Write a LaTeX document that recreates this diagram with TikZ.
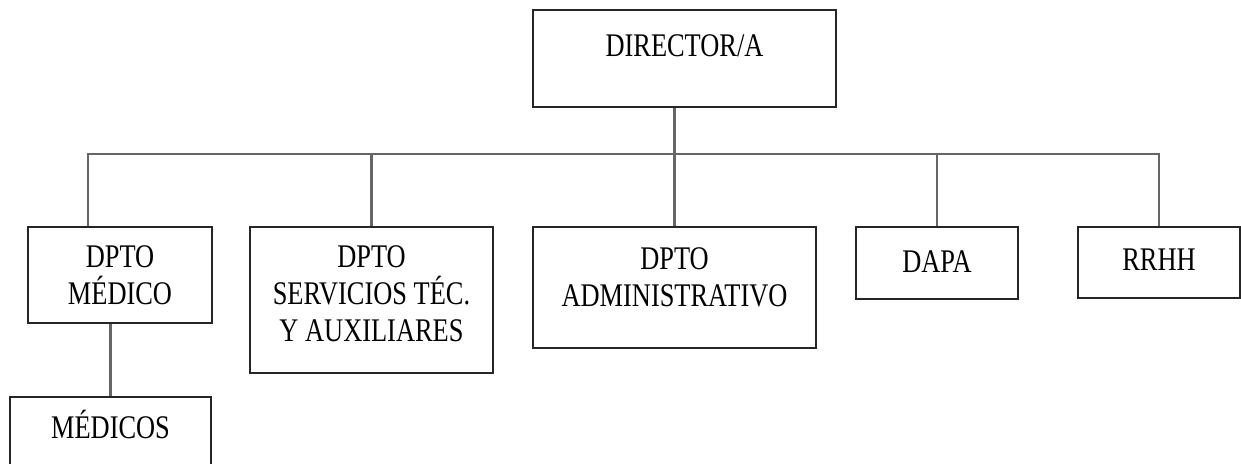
\documentclass[tikz,border=0pt]{standalone}
\usepackage{fontspec}
\newfontfamily\orgfont[FakeStretch=0.8]{Liberation Serif}

\tikzset{
	orgbox/.style={draw=black!85, line width=1pt, rectangle, inner sep=0pt, anchor=north west},
	orgtext/.style={anchor=north, inner sep=0pt, align=center, text=black, font=\orgfont\fontsize{16.5}{18.5}\selectfont},
	link/.style={draw=black!60, line width=1.4pt},
}

\begin{document}
\begin{tikzpicture}[x=0.5pt,y=-0.5pt]
	\clip (0,0) rectangle (1241,464);
	\fill[white] (0,0) rectangle (1241,464);

	% direccion
	\node[orgbox, minimum width=151.5pt, minimum height=48.5pt, label={[orgtext,yshift=-12.5pt]north:DIRECTOR/A}] (dir) at (532,9) {};

	% departamentos
	\node[orgbox, minimum width=92pt, minimum height=48pt, label={[orgtext,yshift=-9.5pt]north:DPTO\\MÉDICO}] (med) at (27,226) {};
	\node[orgbox, minimum width=121.5pt, minimum height=73pt, label={[orgtext,yshift=-9.5pt]north:DPTO\\SERVICIOS TÉC.\\Y AUXILIARES}] (serv) at (249,226) {};
	\node[orgbox, minimum width=141.5pt, minimum height=60.5pt, label={[orgtext,yshift=-10.5pt]north:DPTO\\ADMINISTRATIVO}] (adm) at (532,226) {};
	\node[orgbox, minimum width=81pt, minimum height=36pt, label={[orgtext,yshift=-12pt]north:DAPA}] (dapa) at (855,226) {};
	\node[orgbox, minimum width=81pt, minimum height=35.5pt, label={[orgtext,yshift=-11pt]north:RRHH}] (rrhh) at (1077,226) {};

	% bajo dpto medico
	\node[orgbox, minimum width=100.5pt, minimum height=45pt, label={[orgtext,yshift=-7pt]north:MÉDICOS}] (medicos) at (9,396) {};

	% lineas
	\coordinate (bus) at (0,154);
	\draw[link] (dir.south -| adm.north) -- (adm.north);
	\draw[link] ([xshift=30.5pt]med.north west) |- (bus -| rrhh.north) -- (rrhh.north);
	\foreach \n in {serv,dapa}
		\draw[link] (\n.north) -- (\n.north |- bus);
	\draw[link] (medicos.north) -- (medicos.north |- med.south);
\end{tikzpicture}
\end{document}
